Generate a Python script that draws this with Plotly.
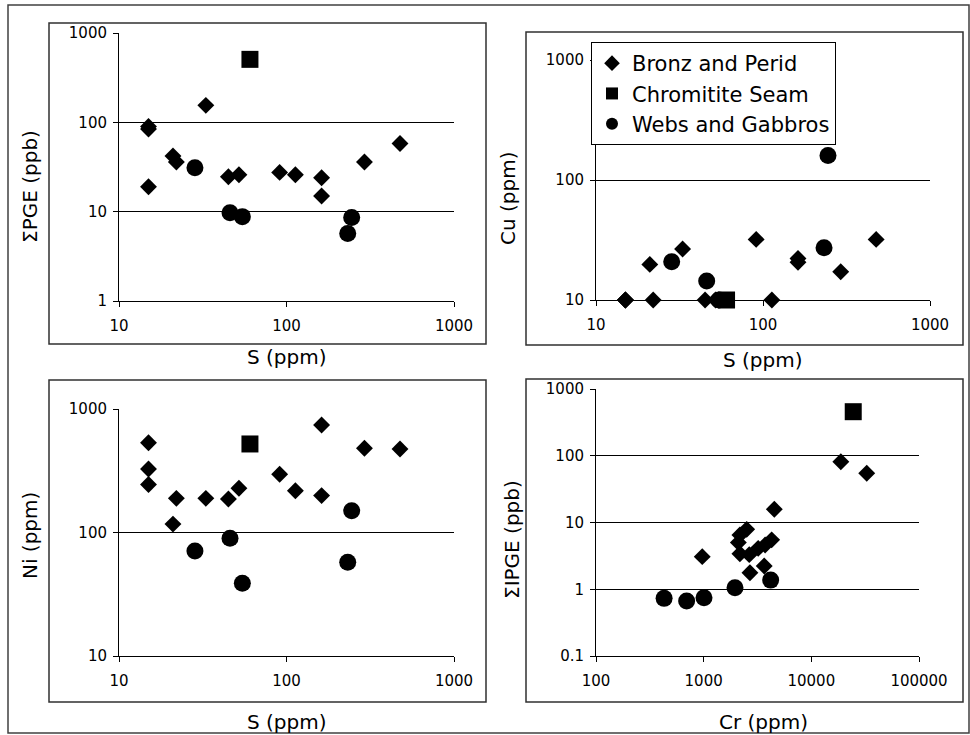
import plotly.graph_objects as go

series_names = ["Bronz and Perid", "Chromitite Seam", "Webs and Gabbros"]

S_bronz = [15, 15, 15, 21, 22, 33, 45, 52, 91, 113, 162, 162, 292, 476]
PGE_bronz = [90, 84, 19, 42, 36, 155, 24.6, 25.9, 27.5, 25.9, 24, 15, 36, 58]
Cu_bronz = [10, 10, 10, 19.8, 10, 26.6, 10, 10, 32, 10, 22.2, 20.6, 17.2, 32]
Ni_bronz = [533, 327, 245, 117, 189, 189, 187, 228, 296, 218, 742, 199, 481, 474]
Cr_bronz = [970, 18800, 32700, 4530, 2510, 2170, 2100, 2170, 2650, 3210, 3720, 4280, 2690, 3650]
IPGE_bronz = [3.08, 81.5, 54.6, 15.8, 7.9, 6.5, 5.0, 3.4, 3.3, 4.1, 4.6, 5.5, 1.77, 2.23]

S_chrom = [60.5]
PGE_chrom = [507]
Cu_chrom = [10]
Ni_chrom = [521]
Cr_chrom = [24500]
IPGE_chrom = [457]

S_webs = [28.4, 46, 54.5, 232, 245]
PGE_webs = [31, 9.7, 8.8, 5.7, 8.6]
Cu_webs = [20.8, 14.4, 10, 27.3, 160]
Ni_webs = [70.7, 89.8, 38.8, 57.4, 150]
Cr_webs = [429, 695, 1007, 1954, 4190]
IPGE_webs = [0.73, 0.667, 0.746, 1.05, 1.37]

S_ticks = [10, 100, 1000]
S_ticktext = ["10", "100", "1000"]
Cr_ticks = [100, 1000, 10000, 100000]
Cr_ticktext = ["100", "1000", "10000", "100000"]
PGE_ticks = [1, 10, 100, 1000]
PGE_ticktext = ["1", "10", "100", "1000"]
Cu_ticks = [10, 100, 1000]
Cu_ticktext = ["10", "100", "1000"]
Ni_ticks = [10, 100, 1000]
Ni_ticktext = ["10", "100", "1000"]
IPGE_ticks = [0.1, 1, 10, 100, 1000]
IPGE_ticktext = ["0.1", "1", "10", "100", "1000"]

x_titles = ["S (ppm)", "S (ppm)", "S (ppm)", "Cr (ppm)"]
y_titles = ["ΣPGE (ppb)", "Cu (ppm)", "Ni (ppm)", "ΣIPGE (ppb)"]

W, H = 970, 735
FONT = "DejaVu Sans"


def px(x):
    return x / W


def py(y):
    return 1 - y / H


symbols = ["diamond", "square", "circle"]
sizes = [13, 17, 17]

panels = [
    (S_bronz, PGE_bronz, S_chrom, PGE_chrom, S_webs, PGE_webs),
    (S_bronz, Cu_bronz, S_chrom, Cu_chrom, S_webs, Cu_webs),
    (S_bronz, Ni_bronz, S_chrom, Ni_chrom, S_webs, Ni_webs),
    (Cr_bronz, IPGE_bronz, Cr_chrom, IPGE_chrom, Cr_webs, IPGE_webs),
]

fig = go.Figure()
for i, p in enumerate(panels):
    ax = "" if i == 0 else str(i + 1)
    for k in range(3):
        fig.add_trace(go.Scatter(
            x=p[2 * k], y=p[2 * k + 1], mode="markers",
            name=series_names[k], showlegend=(i == 1),
            marker=dict(symbol=symbols[k], size=sizes[k], color="black",
                        line=dict(width=0)),
            xaxis="x" + ax, yaxis="y" + ax, cliponaxis=False,
        ))

areas = [(119, 454, 33, 301), (596, 930, 60, 300),
         (119, 454, 409, 656), (596, 919, 389, 656)]
xr = [[1, 3], [1, 3], [1, 3], [2, 5]]
yr = [[0, 3], [1, 3], [1, 3], [-1, 3]]
xt = [(S_ticks, S_ticktext)] * 3 + [(Cr_ticks, Cr_ticktext)]
yt = [(PGE_ticks, PGE_ticktext), (Cu_ticks, Cu_ticktext),
      (Ni_ticks, Ni_ticktext), (IPGE_ticks, IPGE_ticktext)]

layout = dict(
    width=W, height=H, margin=dict(l=0, r=0, t=0, b=0, autoexpand=False),
    paper_bgcolor="white", plot_bgcolor="white",
    font=dict(family=FONT, size=15, color="black"),
    legend=dict(x=px(591), y=py(42), xanchor="left", yanchor="top",
                bgcolor="white", bordercolor="black", borderwidth=1,
                font=dict(family=FONT, size=21, color="black"),
                itemsizing="constant"),
)

for i in range(4):
    l, r, t, b = areas[i]
    ax = "" if i == 0 else str(i + 1)
    layout["xaxis" + ax] = dict(
        type="log", range=xr[i], domain=[px(l), px(r)], automargin=False,
        anchor="y" + ax, showgrid=False, zeroline=False,
        showline=True, linecolor="black", linewidth=1,
        ticks="outside", ticklen=5, tickcolor="black",
        tickvals=xt[i][0], ticktext=xt[i][1], ticklabelstandoff=6,
        tickfont=dict(family=FONT, size=15, color="black"),
    )
    layout["yaxis" + ax] = dict(
        type="log", range=yr[i], domain=[py(b), py(t)], automargin=False,
        anchor="x" + ax, showgrid=True, gridcolor="black", gridwidth=1,
        zeroline=False, showline=True, linecolor="black", linewidth=1,
        ticks="outside", ticklen=5, tickcolor="black",
        tickvals=yt[i][0], ticktext=yt[i][1], ticklabelstandoff=3,
        tickfont=dict(family=FONT, size=15, color="black"),
    )

fig.update_layout(**layout)

boxes = [(49, 486, 23, 344), (526, 963, 32, 345),
         (49, 486, 380, 702), (526, 963, 379, 702)]
shapes = [dict(type="rect", xref="paper", yref="paper",
               x0=px(8), x1=px(969), y0=py(733), y1=py(5),
               line=dict(color="#404040", width=1.5))]
for (l, r, t, b) in boxes:
    shapes.append(dict(type="rect", xref="paper", yref="paper",
                       x0=px(l), x1=px(r), y0=py(b), y1=py(t),
                       line=dict(color="#303030", width=1.5)))
fig.update_layout(shapes=shapes)

xt_pos = [(287, 357), (763, 360), (287, 722), (763, 722)]
yt_pos = [(30, 187), (508, 199), (30, 536), (512, 540)]
ann = []
for i in range(4):
    ann.append(dict(text=x_titles[i], xref="paper", yref="paper",
                    x=px(xt_pos[i][0]), y=py(xt_pos[i][1]),
                    xanchor="center", yanchor="middle", showarrow=False,
                    font=dict(family=FONT, size=20, color="black")))
    ann.append(dict(text=y_titles[i], xref="paper", yref="paper",
                    x=px(yt_pos[i][0]), y=py(yt_pos[i][1]),
                    xanchor="center", yanchor="middle", showarrow=False,
                    textangle=-90,
                    font=dict(family=FONT, size=20, color="black")))
fig.update_layout(annotations=ann)

fig.write_html("out.html")
